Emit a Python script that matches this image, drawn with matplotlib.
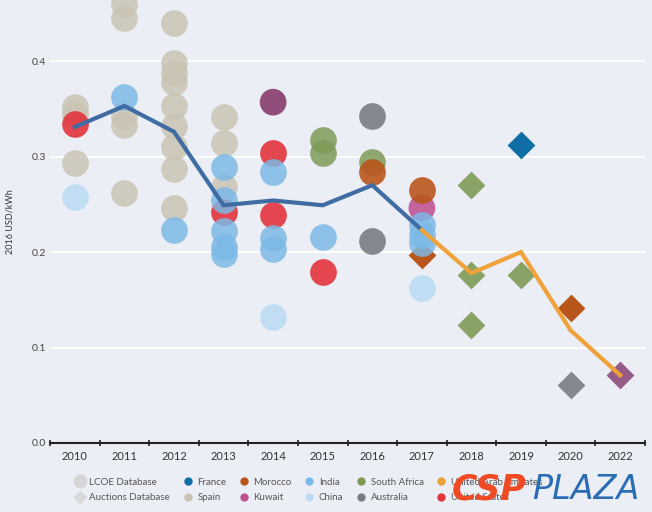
import numpy as np
import matplotlib
matplotlib.use("Agg")
import matplotlib.pyplot as plt
from matplotlib.lines import Line2D

plt.rcParams['font.family'] = ['Lato', 'DejaVu Sans']

years = ['2010', '2011', '2012', '2013', '2014', '2015', '2016', '2017',
         '2018', '2019', '2020', '2022']

# LCOE database (circles): year label -> values
spain_yr = ['2010', '2010', '2010', '2011', '2011', '2011', '2011', '2011',
            '2012', '2012', '2012', '2012', '2012', '2012', '2012', '2012', '2012',
            '2013', '2013', '2013']
spain_val = [0.352, 0.345, 0.293, 0.46, 0.445, 0.343, 0.333, 0.262,
             0.44, 0.398, 0.388, 0.378, 0.353, 0.332, 0.31, 0.287, 0.246,
             0.341, 0.314, 0.268]

us_yr = ['2010', '2013', '2014', '2014', '2015']
us_val = [0.334, 0.242, 0.304, 0.239, 0.179]

india_yr = ['2011', '2012', '2013', '2013', '2013', '2013', '2013',
            '2014', '2014', '2014', '2015', '2017', '2017', '2017']
india_val = [0.362, 0.223, 0.289, 0.254, 0.222, 0.205, 0.198,
             0.284, 0.215, 0.203, 0.216, 0.228, 0.218, 0.21]

china_yr = ['2010', '2014', '2017']
china_val = [0.258, 0.132, 0.162]

kuwait_yr = ['2014', '2017']
kuwait_val = [0.357, 0.246]

safrica_yr = ['2015', '2015', '2016']
safrica_val = [0.317, 0.304, 0.294]

morocco_yr = ['2016', '2017']
morocco_val = [0.284, 0.265]

australia_yr = ['2016', '2016']
australia_val = [0.342, 0.212]

# Auctions database (diamonds)
morocco_auc_yr = ['2017', '2020']
morocco_auc_val = [0.197, 0.141]
safrica_auc_yr = ['2018', '2018', '2018', '2019']
safrica_auc_val = [0.27, 0.176, 0.124, 0.176]
france_auc_yr = ['2019']
france_auc_val = [0.312]
australia_auc_yr = ['2020']
australia_auc_val = [0.061]
kuwait_auc_yr = ['2022']
kuwait_auc_val = [0.071]

# weighted averages
lcoe_avg_yr = ['2010', '2011', '2012', '2013', '2014', '2015', '2016', '2017']
lcoe_avg = [0.331, 0.353, 0.326, 0.249, 0.254, 0.249, 0.27, 0.223]
auc_avg_yr = ['2017', '2018', '2019', '2020', '2022']
auc_avg = [0.223, 0.178, 0.2, 0.118, 0.071]

colors = {
    'France': '#0f6ea6', 'Spain': '#c9c4b3', 'Morocco': '#b9561c',
    'Kuwait': '#c05090', 'India': '#7cb9e6', 'China': '#bcdcf3',
    'South Africa': '#7e9b57', 'Australia': '#7a7c83',
    'United Arab Emirates': '#e9a23b', 'United States': '#e2343c',
}
kuwait_pt_colors = ['#873d6e', '#c05494']

bg = '#eceef5'


def xi(yr):
    return [years.index(y) for y in yr]


fig = plt.figure(figsize=(6.52, 5.12), dpi=100, facecolor=bg)
ax = fig.add_axes([50 / 652, 69 / 512, 595 / 652, 443 / 512], facecolor=bg)

circ = 370
diam = 200
ax.scatter(xi(spain_yr), spain_val, s=circ, color=colors['Spain'], alpha=0.85, lw=0, zorder=3)
ax.scatter(xi(china_yr), china_val, s=circ, color=colors['China'], alpha=0.9, lw=0, zorder=3)
ax.scatter(xi(us_yr), us_val, s=circ, color=colors['United States'], alpha=0.9, lw=0, zorder=3)
ax.scatter(xi(india_yr), india_val, s=circ, color=colors['India'], alpha=0.85, lw=0, zorder=4)
ax.scatter(xi(kuwait_yr), kuwait_val, s=circ, c=kuwait_pt_colors, alpha=0.9, lw=0, zorder=3)
ax.scatter(xi(safrica_yr), safrica_val, s=circ, color=colors['South Africa'], alpha=0.85, lw=0, zorder=3)
ax.scatter(xi(morocco_yr), morocco_val, s=circ, color=colors['Morocco'], alpha=0.9, lw=0, zorder=3)
ax.scatter(xi(australia_yr), australia_val, s=circ, color=colors['Australia'], alpha=0.9, lw=0, zorder=3)

ax.scatter(xi(morocco_auc_yr), morocco_auc_val, s=diam, marker='D', color=colors['Morocco'], lw=0, zorder=3)
ax.scatter(xi(safrica_auc_yr), safrica_auc_val, s=diam, marker='D', color=colors['South Africa'], alpha=0.9, lw=0, zorder=3)
ax.scatter(xi(france_auc_yr), france_auc_val, s=diam, marker='D', color=colors['France'], lw=0, zorder=3)
ax.scatter(xi(australia_auc_yr), australia_auc_val, s=diam, marker='D', color=colors['Australia'], alpha=0.9, lw=0, zorder=3)
ax.scatter(xi(kuwait_auc_yr), kuwait_auc_val, s=diam, marker='D', color='#8c4a7c', alpha=0.9, lw=0, zorder=3)

ax.plot(xi(lcoe_avg_yr), lcoe_avg, color='#3f6da3', lw=3, zorder=5, solid_joinstyle='miter')
ax.plot(xi(auc_avg_yr), auc_avg, color='#f0a23a', lw=3, zorder=5, solid_joinstyle='miter')

ax.set_xlim(-0.5, 11.5)
ax.set_ylim(0, 0.464)
ax.set_yticks([0.0, 0.1, 0.2, 0.3, 0.4])
ax.set_yticklabels(['0.0', '0.1', '0.2', '0.3', '0.4'])
ax.set_xticks(range(len(years)))
ax.set_xticklabels(years)
ax.set_xticks(np.arange(-0.5, 12, 1), minor=True)
ax.tick_params(axis='x', which='major', length=0, pad=6, labelsize=8, labelcolor='#333333')
ax.tick_params(axis='x', which='minor', length=4, direction='inout', color='#222222', width=1.2)
ax.tick_params(axis='y', length=0, pad=3, labelsize=7.5, labelcolor='#444444')
ax.grid(axis='y', color='white', lw=1.3, zorder=0)
ax.set_axisbelow(True)
for s in ['top', 'right', 'left']:
    ax.spines[s].set_visible(False)
ax.spines['bottom'].set_color('#222222')
ax.spines['bottom'].set_linewidth(1.5)
ax.set_ylabel('2016 USD/kWh', fontsize=6.5, color='#333333', labelpad=12)

# legend
leg_names = ['LCOE Database', 'Auctions Database', 'France', 'Spain', 'Morocco', 'Kuwait',
             'India', 'China', 'South Africa', 'Australia', 'United Arab Emirates', 'United States']
handles = [Line2D([], [], ls='', marker='o', ms=10, color='#d6d6d6', mec='none'),
           Line2D([], [], ls='', marker='D', ms=7, color='#d9d9d9', mec='none')]
for name in leg_names[2:]:
    handles.append(Line2D([], [], ls='', marker='o', ms=6, color=colors[name], mec='none'))
fig.legend(handles, leg_names, loc='upper left', bbox_to_anchor=(70 / 652, 1 - 474 / 512),
           ncol=6, frameon=False, fontsize=7, labelcolor='#555555', handletextpad=0.4,
           columnspacing=1.2, handlelength=1.2, labelspacing=0.65, borderaxespad=0)

# watermark
fig.text(452 / 652, 1 - 499 / 512, 'CSP', fontsize=25, fontweight='heavy', style='italic',
         color='#ef4a24', family='DejaVu Sans', zorder=10)
fig.text(532 / 652, 1 - 499 / 512, 'PLAZA', fontsize=24, style='italic', fontweight='light',
         color='#2a6db4', family='DejaVu Sans', zorder=10)

fig.savefig('out.png', dpi=100, facecolor=bg)
